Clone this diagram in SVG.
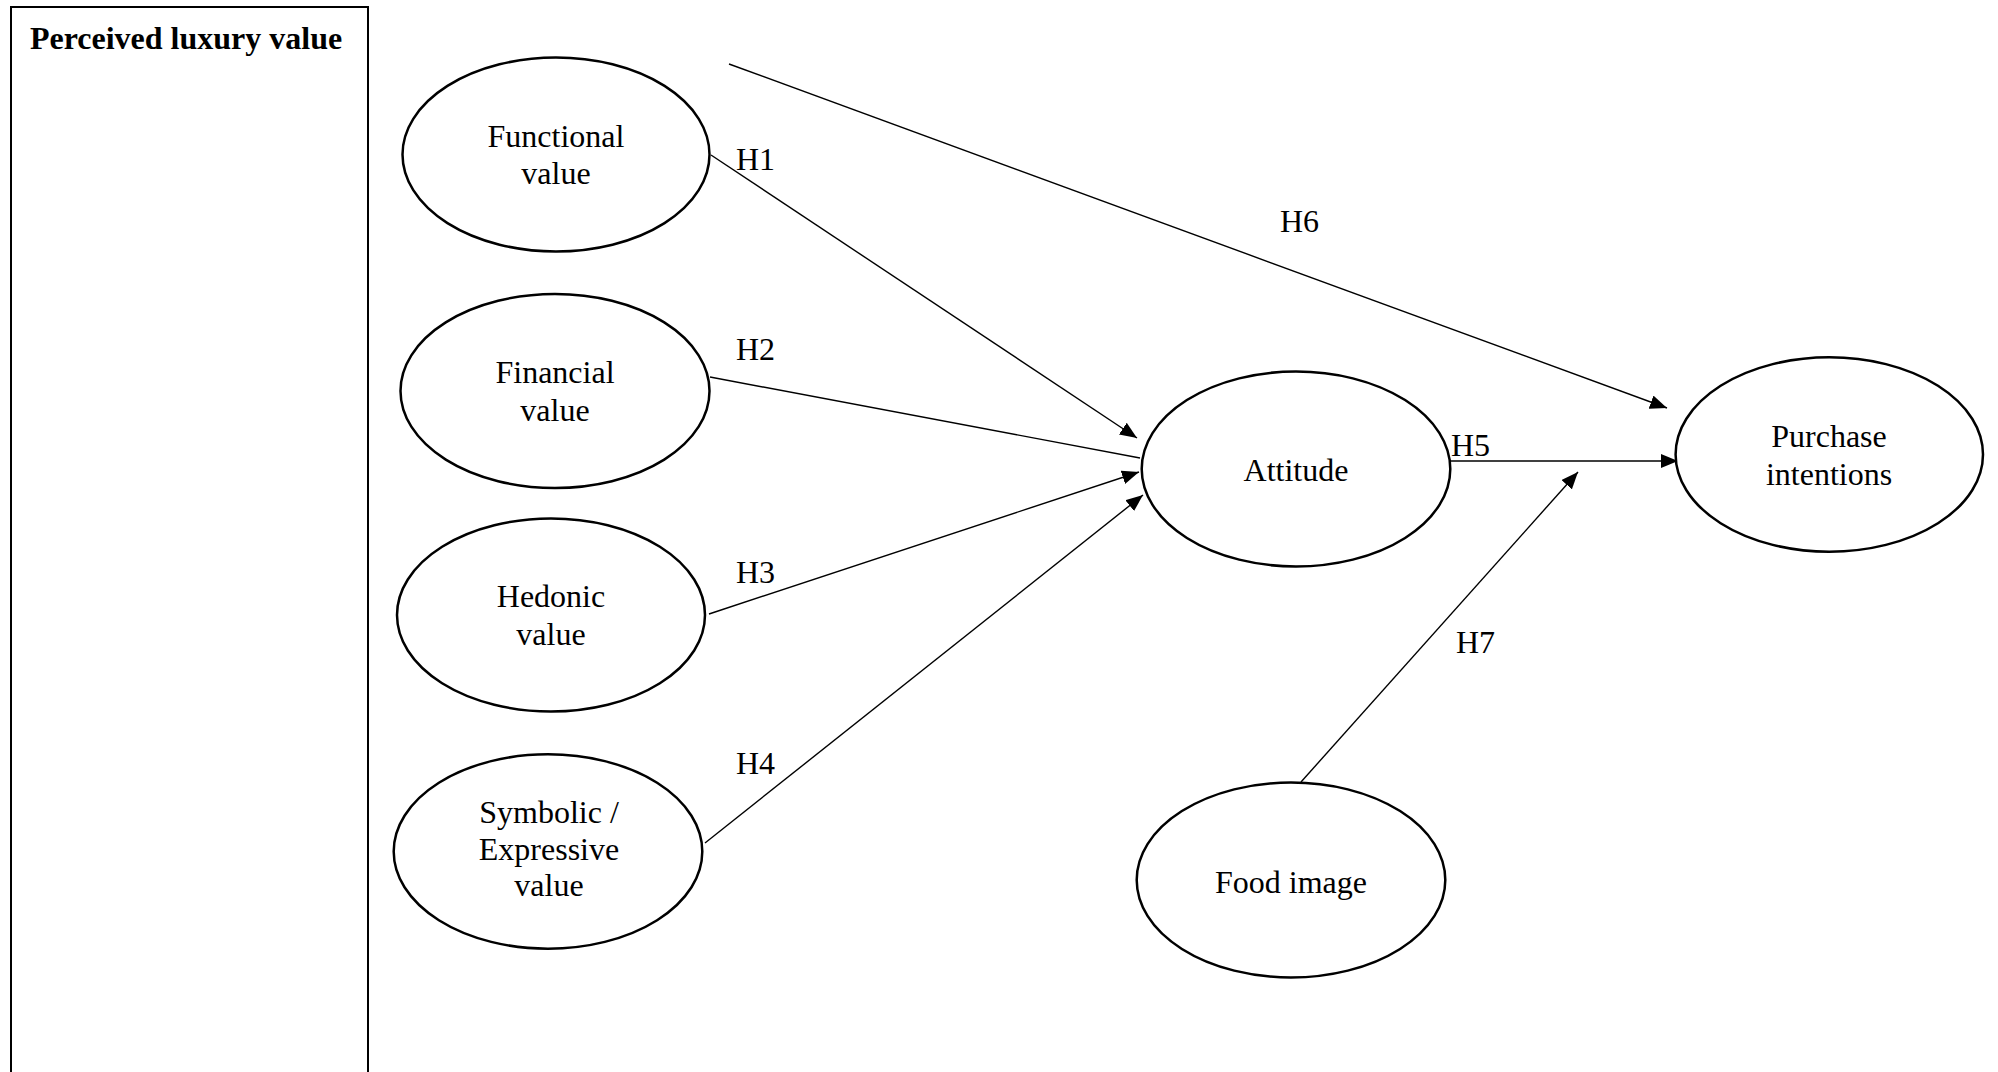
<svg xmlns="http://www.w3.org/2000/svg" width="1998" height="1072" viewBox="0 0 1998 1072">
<style>
.node ellipse{fill:#fff;stroke:#000;stroke-width:2.5}
.t{font-family:"Liberation Serif","Times New Roman",serif;font-size:32px;fill:#000;text-anchor:middle}
.lbl{font-family:"Liberation Serif","Times New Roman",serif;font-size:32px;fill:#000}
.c{stroke:#000;stroke-width:1.4;fill:none}
</style>
<defs>
<marker id="arr" markerUnits="userSpaceOnUse" markerWidth="18" markerHeight="14" refX="17" refY="7" orient="auto">
<path d="M0,0 L17,7 L0,14 z" fill="#000"/>
</marker>
</defs>
<rect width="1998" height="1072" fill="#fff"/>
<g id="panel">
<rect x="11" y="7" width="357" height="1080" fill="none" stroke="#000" stroke-width="2"/>
<text x="186" y="49" style="font-family:'Liberation Serif','Times New Roman',serif;font-size:32px;font-weight:bold;text-anchor:middle">Perceived luxury value</text>
</g>
<g id="connectors">
<line class="c" x1="729" y1="64" x2="1667" y2="408" marker-end="url(#arr)"/>
<line class="c" x1="711" y1="155" x2="1137" y2="438" marker-end="url(#arr)"/>
<line class="c" x1="710" y1="377" x2="1140" y2="458"/>
<line class="c" x1="709" y1="614" x2="1139" y2="472" marker-end="url(#arr)"/>
<line class="c" x1="705" y1="843" x2="1143" y2="495" marker-end="url(#arr)"/>
<line class="c" x1="1450" y1="461" x2="1678" y2="461" marker-end="url(#arr)"/>
<line class="c" x1="1301" y1="782" x2="1578" y2="472" marker-end="url(#arr)"/>
<text class="lbl" x="736" y="170">H1</text>
<text class="lbl" x="736" y="360">H2</text>
<text class="lbl" x="736" y="583">H3</text>
<text class="lbl" x="736" y="774">H4</text>
<text class="lbl" x="1451" y="456">H5</text>
<text class="lbl" x="1280" y="232">H6</text>
<text class="lbl" x="1456" y="653">H7</text>
</g>
<g id="functional" class="node">
<ellipse cx="556" cy="154.5" rx="153.5" ry="97"/>
<text class="t" x="556" y="147">Functional</text>
<text class="t" x="556" y="184">value</text>
</g>
<g id="financial" class="node">
<ellipse cx="555" cy="391" rx="154.5" ry="97"/>
<text class="t" x="555" y="383">Financial</text>
<text class="t" x="555" y="420.5">value</text>
</g>
<g id="hedonic" class="node">
<ellipse cx="551" cy="615" rx="154" ry="96.5"/>
<text class="t" x="551" y="607">Hedonic</text>
<text class="t" x="551" y="645">value</text>
</g>
<g id="symbolic" class="node">
<ellipse cx="548" cy="851.5" rx="154.3" ry="97.2"/>
<text class="t" x="549" y="822.5">Symbolic /</text>
<text class="t" x="549" y="860">Expressive</text>
<text class="t" x="549" y="896">value</text>
</g>
<g id="attitude" class="node">
<ellipse cx="1296" cy="469" rx="154.3" ry="97.5"/>
<text class="t" x="1296" y="480.5">Attitude</text>
</g>
<g id="purchase" class="node">
<ellipse cx="1829.3" cy="454.5" rx="153.7" ry="97.2"/>
<text class="t" x="1829" y="446.5">Purchase</text>
<text class="t" x="1829" y="485">intentions</text>
</g>
<g id="food" class="node">
<ellipse cx="1291" cy="880" rx="154.3" ry="97.5"/>
<text class="t" x="1291" y="893">Food image</text>
</g>
</svg>
